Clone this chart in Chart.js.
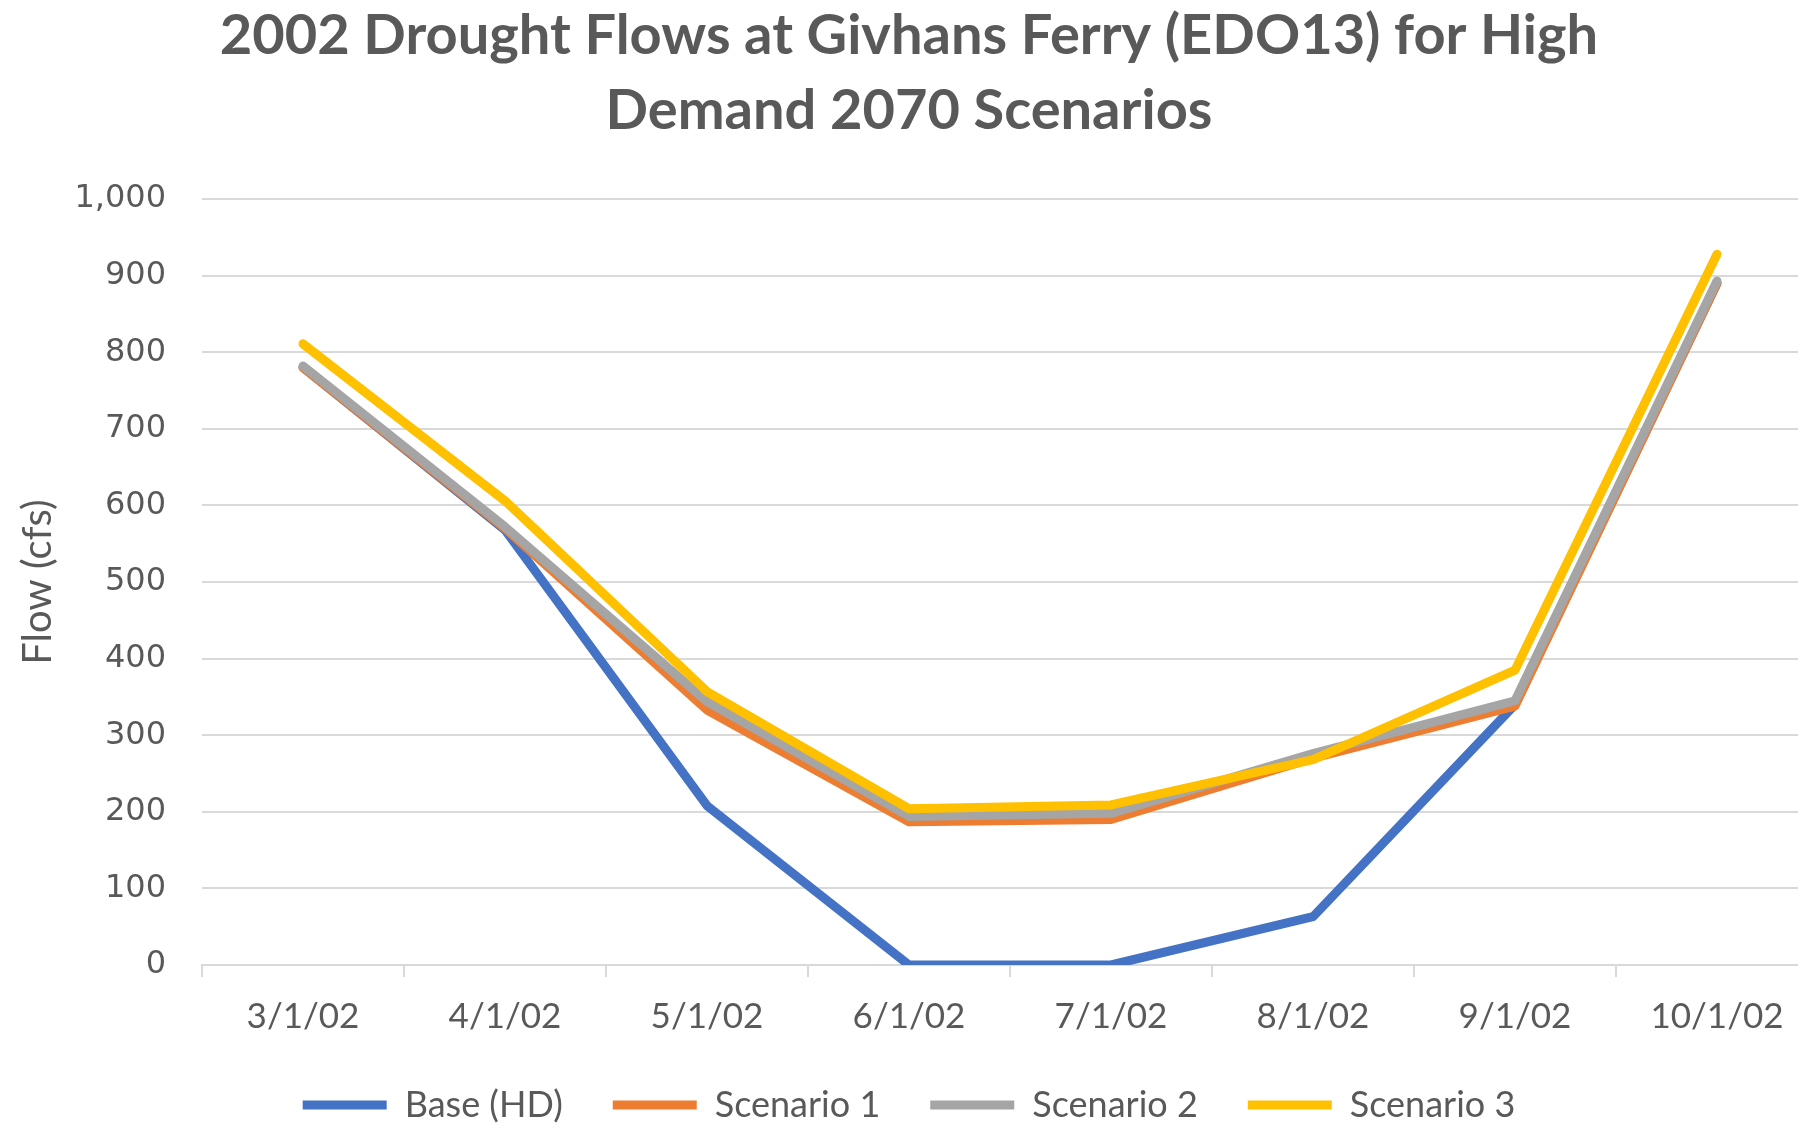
<!DOCTYPE html>
<html lang="en">
<head>
  <meta charset="UTF-8">
  <title>2002 Drought Flows at Givhans Ferry</title>
  <script src="https://cdn.jsdelivr.net/npm/chart.js"></script>
  <style>
    body {
      margin: 0;
      background: white;
      overflow: hidden;
    }
  </style>
</head>
<body>
  <canvas id="grafico" width="1820" height="1123"></canvas>

  <script>
    const fechas = ['3/1/02', '4/1/02', '5/1/02', '6/1/02', '7/1/02', '8/1/02', '9/1/02', '10/1/02'];
    const baseHD = [780, 568, 208, 0, 0, 63, 340, 890];
    const escenario1 = [780, 570, 333, 187, 190, 270, 338, 890];
    const escenario2 = [782, 572, 344, 194, 198, 276, 345, 893];
    const escenario3 = [811, 606, 357, 204, 209, 268, 385, 928];

    const gris = '#595959';
    const rejilla = '#D9D9D9';

    function serie(label, data, color, orden) {
      return {
        label: label,
        data: data,
        borderColor: color,
        backgroundColor: color,
        borderWidth: 9,
        borderCapStyle: 'round',
        borderJoinStyle: 'round',
        pointRadius: 0,
        tension: 0,
        fill: false,
        order: orden
      };
    }

    const ctx = document.getElementById('grafico').getContext('2d');
    new Chart(ctx, {
      type: 'line',
      data: {
        labels: fechas,
        datasets: [
          serie('Base (HD)', baseHD, '#4472C4', 4),
          serie('Scenario 1', escenario1, '#ED7D31', 3),
          serie('Scenario 2', escenario2, '#A5A5A5', 2),
          serie('Scenario 3', escenario3, '#FFC000', 1)
        ]
      },
      options: {
        responsive: false,
        animation: false,
        layout: { padding: { top: -2, right: 2, bottom: -10, left: 0 } },
        plugins: {
          title: {
            display: true,
            text: ['2002 Drought Flows at Givhans Ferry (EDO13) for High', 'Demand 2070 Scenarios'],
            color: gris,
            font: { family: 'Lato', size: 56, weight: 'bold', lineHeight: 1.34 },
            padding: { top: 0, bottom: 51 }
          },
          legend: {
            position: 'bottom',
            labels: {
              usePointStyle: true,
              pointStyle: 'line',
              pointStyleWidth: 84,
              color: gris,
              padding: 50,
              font: { family: 'Lato', size: 36 },
              sort: (a, b) => a.datasetIndex - b.datasetIndex
            }
          },
          tooltip: { enabled: false }
        },
        scales: {
          x: {
            offset: true,
            grid: {
              offset: true,
              drawOnChartArea: false,
              drawTicks: true,
              tickLength: 12,
              color: rejilla,
              lineWidth: 2
            },
            border: { color: rejilla, width: 2 },
            ticks: {
              color: gris,
              padding: 19,
              maxRotation: 0,
              font: { family: 'Lato', size: 35 }
            },
            afterFit: (escala) => { escala.height = 72; }
          },
          y: {
            min: 0,
            max: 1000,
            ticks: {
              stepSize: 100,
              color: gris,
              padding: 36,
              font: { family: 'DejaVu Sans', size: 32 }
            },
            grid: { color: rejilla, lineWidth: 2, drawTicks: false },
            border: { display: false },
            title: {
              display: true,
              text: 'Flow (cfs)',
              color: gris,
              font: { family: 'Lato', size: 40 },
              padding: { top: 14, bottom: 0 }
            },
            afterFit: (escala) => { escala.width = 202; }
          }
        }
      }
    });
  </script>
</body>
</html>
